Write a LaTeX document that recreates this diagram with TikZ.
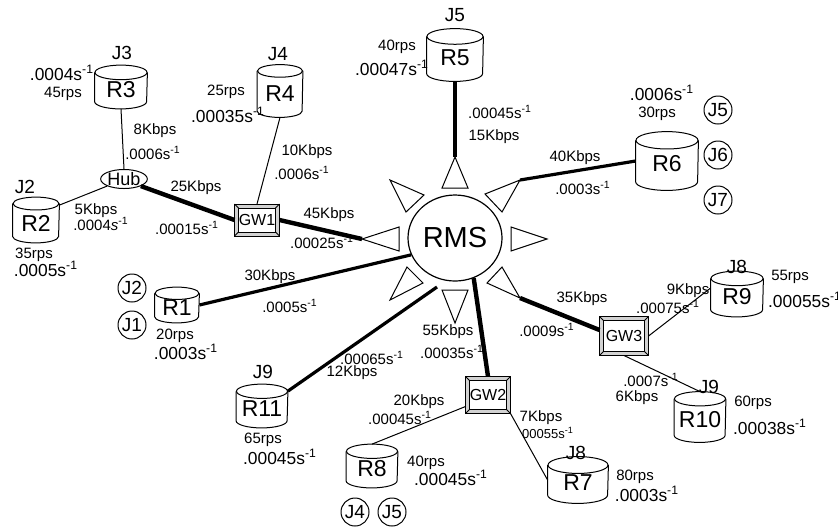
\documentclass[tikz,border=0pt]{standalone}
\usepackage{fontspec}
\setmainfont{Liberation Sans}
\usetikzlibrary{shapes.geometric,calc}
\newcommand\fs[1]{\fontsize{#1}{#1}\selectfont}
\newcommand\inv{\textsuperscript{-1}}
\newcommand\mycyl[6]{%
 \node[inner sep=0pt, minimum width=#4*0.5pt, minimum height=#5*0.5pt, font=\fs{11.5}] (#1) at (#2,-#3) {\raisebox{-1.5pt}[\height][\depth]{#6}};
 \pgfmathsetmacro\cylrx{#4*0.25}%
 \pgfmathsetmacro\cylry{#4*0.07}%
 \draw[line width=0.5pt] ([yshift=-\cylry pt]#1.north west) -- ([yshift=\cylry pt]#1.south west) arc[start angle=180, end angle=360, x radius=\cylrx pt, y radius=\cylry pt] -- ([yshift=-\cylry pt]#1.north east);
 \draw[line width=0.5pt] ([yshift=-\cylry pt]#1.north) ellipse[x radius=\cylrx pt, y radius=\cylry pt];
}
\newcommand\mygw[6]{%
 \node[draw, line width=0.5pt, fill=white, inner sep=0pt, minimum width=#4*0.5pt, minimum height=#5*0.5pt, font=\fs{8}] (#1) at (#2,-#3) {#6};
 \fill[gray!35, even odd rule] (#1.north west) rectangle (#1.south east) ([shift={(2pt,-2pt)}]#1.north west) rectangle ([shift={(-2pt,2pt)}]#1.south east);
 \draw[line width=0.4pt] ([shift={(2pt,-2pt)}]#1.north west) rectangle ([shift={(-2pt,2pt)}]#1.south east);
 \draw[line width=0.4pt] (#1.north west) -- ++(2pt,-2pt) (#1.north east) -- ++(-2pt,-2pt) (#1.south west) -- ++(2pt,2pt) (#1.south east) -- ++(-2pt,2pt);
 \draw[line width=0.5pt] (#1.north west) rectangle (#1.south east);
}
\tikzset{
 lk/.style={font=\fs{7.5}, inner sep=0pt},
 rt/.style={font=\fs{8.7}, inner sep=0pt},
 jl/.style={font=\fs{9.5}, inner sep=0pt},
 jc/.style={draw, circle, font=\fs{9.5}, inner sep=0pt, minimum size=14pt, line width=0.5pt},
 thinln/.style={line width=0.5pt},
 midln/.style={line width=1.6pt},
 thickln/.style={line width=2.2pt},
 ray/.style={draw, line width=0.5pt, fill=white, line join=miter},
}
\begin{document}
\begin{tikzpicture}[x=0.5pt,y=0.5pt]
\useasboundingbox (0,0) rectangle (838,-527);

% central node
\node[draw, ellipse, line width=0.6pt, minimum width=47pt, minimum height=43pt, inner sep=0pt, font=\fs{14.5}] (RMS) at (455,-238) {RMS};

% rays
\coordinate (aT) at (455,-157);
\coordinate (aUR) at (520,-180);
\coordinate (aR) at (547,-239);
\coordinate (aLR) at (520,-298);
\coordinate (aB) at (455,-323);
\coordinate (aLL) at (390,-300);
\coordinate (aL) at (362,-239);
\coordinate (aUL) at (390,-180);
\draw[ray] (aT) -- (442,-188) -- (468,-188) -- cycle;
\draw[ray] (aUR) -- (485,-194) -- (502,-212) -- cycle;
\draw[ray] (aR) -- (511,-227) -- (511,-251) -- cycle;
\draw[ray] (aLR) -- (502,-267) -- (487,-283) -- cycle;
\draw[ray] (aB) -- (442,-290) -- (468,-290) -- cycle;
\draw[ray] (aLL) -- (407,-267) -- (423,-283) -- cycle;
\draw[ray] (aL) -- (399,-227) -- (399,-251) -- cycle;
\draw[ray] (aUL) -- (424,-195) -- (406,-212) -- cycle;
\coordinate (r11end) at (437,-287);

% cylinders
\mycyl{R3}{121}{87}{52}{43}{R3}
\mycyl{R2}{36}{220}{46}{45}{R2}
\mycyl{R4}{280}{91}{45}{52}{R4}
\mycyl{R5}{455}{55}{56}{52}{R5}
\mycyl{R6}{667}{161}{62}{58}{R6}
\mycyl{R1}{177}{305}{44}{35}{R1}
\mycyl{R11}{262}{406}{51}{43}{R11}
\mycyl{R8}{372}{466}{51}{43}{R8}
\mycyl{R7}{578}{480}{60}{46}{R7}
\mycyl{R9}{737}{294}{52}{45}{R9}
\mycyl{R10}{700}{417}{51}{50}{R10}

% hub and gateways
\node[draw, ellipse, line width=0.5pt, minimum width=22.5pt, minimum height=9.5pt, inner sep=0pt, font=\fs{9}] (Hub) at (124,-179) {Hub};
\mygw{GW1}{257}{220}{44}{31}{GW1}
\mygw{GW2}{488}{395}{44}{36}{GW2}
\mygw{GW3}{624}{336}{48}{38}{GW3}

% connectors
\draw[thinln] (R3.south) -- (Hub.north);
\draw[thinln] ([yshift=-4pt]R2.north east) -- (Hub.south west);
\draw[thickln] (Hub.south east) -- (GW1.west);
\draw[thinln] (R4.south) -- (GW1.north);
\draw[thickln] (GW1.east) -- (aL);
\draw[thickln] (R5.south) -- (aT);
\draw[midln] (R6.west) -- (aUR);
\draw[midln] (R1.east) -- (RMS.201);
\draw[midln] ([yshift=-3.5pt]R11.north east) -- (r11end);
\draw[thickln] (GW2.north) -- (RMS.295);
\draw[thickln] ([yshift=3pt]GW3.west) -- (aLR);
\draw[thinln] (GW3.east) -- ([yshift=3pt]R9.west);
\draw[thinln] (GW3.south) -- (R10.north);
\draw[thinln] ([yshift=3.5pt]GW2.south west) -- (R8.north);
\draw[thinln] (GW2.south east) -- (R7.west);

% R3 labels
\node[jl] (j3) at (122,-53) {J3};
\node[rt] (r3r) at (62,-73) {.0004s\inv};
\node[lk] (r3p) at (63,-94) {45rps};
\node[lk] (l3k) at (155,-131) {8Kbps};
\node[lk] (l3r) at (153,-153) {.0006s\inv};
% R2
\node[jl] (j2) at (25,-187) {J2};
\node[lk] (l2k) at (96,-211) {5Kbps};
\node[lk] (l2r) at (101,-224) {.0004\textit{s}\inv};
\node[lk] (r2p) at (34,-255) {35rps};
\node[rt] (r2r) at (46,-269) {.0005s\inv};
% Hub-GW1
\node[lk] (lhk) at (196,-188) {25Kbps};
\node[lk] (lhr) at (187,-228) {.00015s\inv};
% R4
\node[jl] (j4) at (278,-54) {J4};
\node[lk] (r4p) at (226,-92) {25rps};
\node[rt] (r4r) at (228,-115) {.00035s\inv};
\node[lk] (l4k) at (307,-152) {10Kbps};
\node[lk] (l4r) at (302,-173) {.0006s\inv};
% R5
\node[jl] (j5) at (455,-15) {J5};
\node[lk] (r5p) at (397,-47) {40rps};
\node[rt] (r5r) at (392,-68) {.00047s\inv};
\node[lk] (l5r) at (500,-112) {.00045s\inv};
\node[lk] (l5k) at (494,-137) {15Kbps};
% R6
\node[rt] (r6r) at (662,-93) {.0006s\inv};
\node[lk] (r6p) at (657,-114) {30rps};
\node[jc] (c6a) at (718,-110) {J5};
\node[jc] (c6b) at (718,-155) {J6};
\node[jc] (c6c) at (718,-200) {J7};
\node[lk] (l6k) at (575,-158) {40Kbps};
\node[lk] (l6r) at (583,-188) {.0003s\inv};
% GW1-RMS
\node[lk] (lgk) at (329,-215) {45Kbps};
\node[lk] (lgr) at (322,-242) {.00025s\inv};
% R1
\node[jc] (c1a) at (132,-288) {J2};
\node[jc] (c1b) at (132,-325) {J1};
\node[lk] (r1p) at (175,-336) {20rps};
\node[rt] (r1r) at (186,-352) {.0003s\inv};
\node[lk] (l1k) at (270,-277) {30Kbps};
\node[lk] (l1r) at (290,-306) {.0005s\inv};
% R11
\node[jl] (j11) at (263,-372) {J9};
\node[lk] (r11p) at (263,-440) {65rps};
\node[rt] (r11r) at (280,-457) {.00045s\inv};
\node[lk] (l11r) at (372,-358) {.00065s\inv};
\node[lk] (l11k) at (352,-373) {12Kbps};
% GW2
\node[lk] (lg2k) at (448,-332) {55Kbps};
\node[lk] (lg2r) at (452,-352) {.00035s\inv};
\node[lk] (l8k) at (419,-402) {20Kbps};
\node[lk] (l8r) at (400,-418) {.00045s\inv};
\node[lk] (l7k) at (541,-418) {7Kbps};
\node[lk, font=\fs{6.5}] (l7r) at (548,-433) {00055s\inv};
% R8
\node[jc] (c8a) at (355,-512) {J4};
\node[jc] (c8b) at (392,-512) {J5};
\node[lk] (r8p) at (426,-463) {40rps};
\node[rt] (r8r) at (451,-478) {.00045s\inv};
% R7
\node[jl] (j7) at (576,-453) {J8};
\node[lk] (r7p) at (635,-477) {80rps};
\node[rt] (r7r) at (647,-494) {.0003s\inv};
% GW3
\node[lk] (lg3k) at (582,-299) {35Kbps};
\node[lk] (lg3r) at (547,-330) {.0009s\inv};
\node[lk] (l9k) at (688,-291) {9Kbps};
\node[lk] (l9r) at (668,-307) {.00075s\inv};
% R9
\node[jl] (j9b) at (737,-267) {J8};
\node[lk] (r9p) at (790,-277) {55rps};
\node[rt] (r9r) at (805,-300) {.00055s\inv};
% R10
\node[jl] (j10) at (709,-387) {J9};
\node[lk] (r10p) at (753,-403) {60rps};
\node[rt] (r10r) at (770,-427) {.00038s\inv};
\node[lk] (l10r) at (651,-380) {.0007s\inv};
\node[lk] (l10k) at (637,-398) {6Kbps};
\end{tikzpicture}
\end{document}
